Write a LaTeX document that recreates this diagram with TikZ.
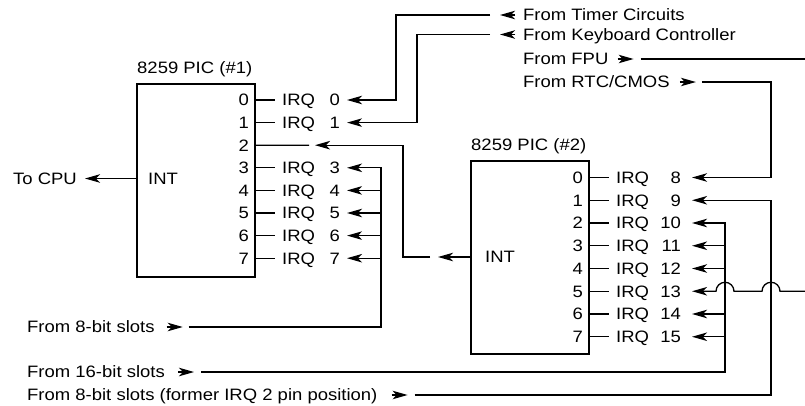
\documentclass[tikz,border=0pt]{standalone}
\usepackage{fontspec}
\setmainfont{Liberation Sans}[FakeStretch=1.12]
\usetikzlibrary{arrows.meta}
\begin{document}
\begin{tikzpicture}[x=1pt,y=-1pt,
  lbl/.style={inner sep=0pt,text height=11.8pt,text depth=0pt,font=\fontsize{16.5}{20}\selectfont},
  wire/.style={line width=1.3pt},
  arr/.style={wire,-{Stealth[length=15pt,width=8.5pt,inset=4pt]}},
  chip/.style={draw,line width=2pt,inner sep=0pt,outer sep=0pt,minimum width=118pt,minimum height=193pt,anchor=north west}]
\useasboundingbox (0,0) rectangle (805,405);

% ---------- PIC #1 ----------
\node[chip] (c1) at (137,84) {};
\node[lbl,anchor=west] (t1) at (137,68) {8259 PIC (\#1)};
\node[lbl,anchor=west] (int1) at (148,178.5) {INT};
\node[lbl,anchor=east] (cpu) at (77,178.5) {To CPU};
\draw[arr,shorten >=8pt] (c1.west |- int1) -- (cpu.east);

\foreach \i in {0,...,7} {
  \pgfmathsetmacro\yy{100+22.6*\i}
  \node[lbl,anchor=east] (a\i) at (249,\yy) {\i};
}
\foreach \i in {0,1,3,4,5,6,7} {
  \pgfmathsetmacro\yy{100+22.6*\i}
  \node[lbl,anchor=west] (q\i) at (282,\yy) {IRQ};
  \node[lbl,anchor=east] (n\i) at (340,\yy) {\i};
  \coordinate (ap\i) at (275,\yy);
  \draw[wire] (c1.east |- a\i) -- (ap\i);
}
\coordinate (ap2) at (309,145.2);
\draw[wire] (c1.east |- a2) -- (ap2);

% ---------- PIC #2 ----------
\node[chip] (c2) at (471,161) {};
\node[lbl,anchor=west] (t2) at (471,145) {8259 PIC (\#2)};
\node[lbl,anchor=west] (int2) at (485,257) {INT};
\foreach \i in {0,...,7} {
  \pgfmathsetmacro\yy{177.5+22.75*\i}
  \pgfmathtruncatemacro\nn{8+\i}
  \node[lbl,anchor=east] (b\i) at (583,\yy) {\i};
  \node[lbl,anchor=west] (r\i) at (616,\yy) {IRQ};
  \node[lbl,anchor=east] (m\nn) at (681,\yy) {\nn};
  \coordinate (bp\i) at (609,\yy);
  \draw[wire] (c2.east |- b\i) -- (bp\i);
}

% cascade: INT of PIC #2 to IRQ 2 of PIC #1
\coordinate (j1) at (438,257);
\coordinate (j2) at (430,257);
\coordinate (j3) at (403,257);
\coordinate (j4) at (315,145.2);
\draw[arr] (c2.west |- int2) -- (j1);
\draw[arr] (j2) -- (j3) |- (j4);

% ---------- sources, top ----------
\node[lbl,anchor=west] (timer) at (523,15) {From Timer Circuits};
\node[lbl,anchor=west] (kbd) at (523,34.5) {From Keyboard Controller};
\node[lbl,anchor=west] (fpu) at (523,59) {From FPU};
\node[lbl,anchor=west] (rtc) at (523,82) {From RTC/CMOS};

\draw[arr] ([xshift=-8pt]timer.west) -- ([xshift=-23pt]timer.west);
\coordinate (k0) at (396,15);
\draw[arr,shorten >=7pt] ([xshift=-33pt]timer.west) -- (k0) |- (n0.east);

\draw[arr] ([xshift=-8pt]kbd.west) -- ([xshift=-23pt]kbd.west);
\coordinate (k1) at (417,34.5);
\draw[arr,shorten >=7pt] ([xshift=-33pt]kbd.west) -- (k1) |- (n1.east);

\draw[arr] ([xshift=9pt]fpu.east) -- ([xshift=25pt]fpu.east);
\coordinate (fpuout) at (805,59);
\draw[wire] ([xshift=32pt]fpu.east) -- (fpuout);

\draw[arr] ([xshift=10pt]rtc.east) -- ([xshift=26pt]rtc.east);
\coordinate (k8) at (771,82);
\draw[arr,shorten >=11pt] ([xshift=32pt]rtc.east) -- (k8) |- (m8.east);

% IRQ 13 from FPU (re-entering at the right edge, hopping over two lines)
\coordinate (fpuin) at (805,291.25);
\draw[arr,shorten >=11pt] (fpuin) -- (780,291.25)
  arc[start angle=0,end angle=180,radius=9pt] -- (734,291.25)
  arc[start angle=0,end angle=180,radius=9pt] -- (m13.east);

% ---------- sources, bottom ----------
\node[lbl,anchor=west] (slot8) at (27,327) {From 8-bit slots};
\node[lbl,anchor=west] (slot16) at (27,372) {From 16-bit slots};
\node[lbl,anchor=west] (slot8b) at (27,395) {From 8-bit slots (former IRQ 2 pin position)};

\draw[arr] ([xshift=12pt]slot8.east) -- ([xshift=28pt]slot8.east);
\coordinate (ka) at (381,327);
\draw[arr,shorten >=7pt] ([xshift=34pt]slot8.east) -- (ka) |- (n3.east);
\foreach \i in {4,5,6,7} {
  \draw[arr,shorten >=7pt] (ka |- n\i.east) -- (n\i.east);
}

\draw[arr] ([xshift=13pt]slot16.east) -- ([xshift=29pt]slot16.east);
\coordinate (kb) at (725,372);
\draw[arr,shorten >=11pt] ([xshift=36pt]slot16.east) -- (kb) |- (m10.east);
\foreach \i in {11,12,14,15} {
  \draw[arr,shorten >=11pt] (kb |- m\i.east) -- (m\i.east);
}

\draw[arr] ([xshift=14pt]slot8b.east) -- ([xshift=30pt]slot8b.east);
\coordinate (k9) at (771,395);
\draw[arr,shorten >=11pt] ([xshift=37pt]slot8b.east) -- (k9) |- (m9.east);
\end{tikzpicture}
\end{document}
